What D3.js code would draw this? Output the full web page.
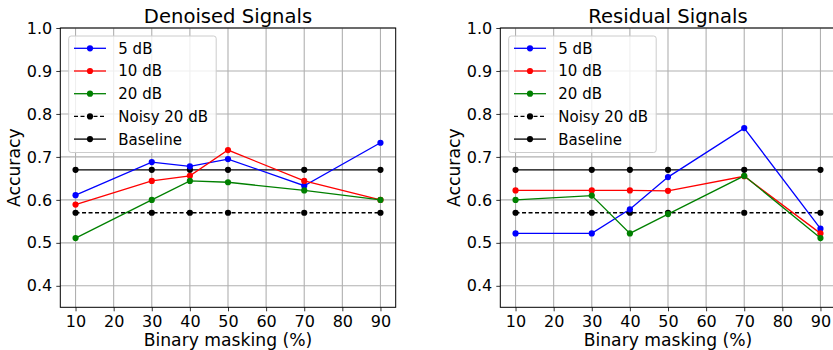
<!DOCTYPE html>
<html>
<head>
<meta charset="utf-8">
<script src="https://cdn.jsdelivr.net/npm/d3@7"></script>
<style>
  body { margin: 0; background: #fff; }
  svg { font-family: "DejaVu Sans", sans-serif; }
</style>
</head>
<body>
<div id="chart"></div>
<script>
// masking levels on the x axis
var masking = [10, 30, 40, 50, 70, 90];
var xTicks = [10, 20, 30, 40, 50, 60, 70, 80, 90];
var yTicks = [0.4, 0.5, 0.6, 0.7, 0.8, 0.9, 1.0];

// denoised signals
var denoised5  = [0.611, 0.688, 0.678, 0.695, 0.633, 0.733];
var denoised10 = [0.589, 0.644, 0.656, 0.716, 0.644, 0.600];
var denoised20 = [0.511, 0.600, 0.644, 0.641, 0.622, 0.600];

// residual signals
var residual5  = [0.522, 0.522, 0.578, 0.653, 0.767, 0.533];
var residual10 = [0.622, 0.622, 0.622, 0.621, 0.655, 0.522];
var residual20 = [0.600, 0.610, 0.522, 0.567, 0.656, 0.511];

// reference lines
var noisy20  = [0.57, 0.57, 0.57, 0.57, 0.57, 0.57];
var baseline = [0.67, 0.67, 0.67, 0.67, 0.67, 0.67];

var seriesNames = ["5 dB", "10 dB", "20 dB", "Noisy 20 dB", "Baseline"];
var seriesColors = ["#0000ff", "#ff0000", "#008000", "#000000", "#000000"];
var seriesDash = [null, null, null, "4,2.5", null];

var width = 833, height = 350;
var svg = d3.select("#chart").append("svg")
    .attr("width", width)
    .attr("height", height);

function drawPanel(left, title, values) {
    var top = 28, bottom = 307.3, right = left + 335.4;
    var x = d3.scaleLinear().domain([6, 94]).range([left, right]);
    var y = d3.scaleLinear().domain([0.35, 1.0]).range([bottom, top]);
    var g = svg.append("g");

    // grid
    g.selectAll(".gx").data(xTicks).enter().append("line")
        .attr("x1", function(d) { return x(d); })
        .attr("x2", function(d) { return x(d); })
        .attr("y1", top).attr("y2", bottom)
        .attr("stroke", "#b0b0b0").attr("stroke-width", 1.1);
    g.selectAll(".gy").data(yTicks).enter().append("line")
        .attr("y1", function(d) { return y(d); })
        .attr("y2", function(d) { return y(d); })
        .attr("x1", left).attr("x2", right)
        .attr("stroke", "#b0b0b0").attr("stroke-width", 1.1);

    // axes
    var xAxis = g.append("g")
        .attr("transform", "translate(0," + bottom + ")")
        .call(d3.axisBottom(x).tickValues(xTicks).tickSize(4).tickPadding(4).tickFormat(d3.format("d")));
    var yAxis = g.append("g")
        .attr("transform", "translate(" + left + ",0)")
        .call(d3.axisLeft(y).tickValues(yTicks).tickSize(4).tickPadding(4).tickFormat(d3.format(".1f")));
    [xAxis, yAxis].forEach(function(a) {
        a.select(".domain").remove();
        a.selectAll("text").attr("font-size", 16).attr("fill", "#000")
            .attr("font-family", "DejaVu Sans, sans-serif");
        a.selectAll("line").attr("stroke", "#000").attr("stroke-width", 0.8);
    });

    g.append("rect")
        .attr("x", left).attr("y", top)
        .attr("width", right - left).attr("height", bottom - top)
        .attr("fill", "none").attr("stroke", "#000").attr("stroke-width", 1);

    // series
    var line = d3.line()
        .x(function(d, i) { return x(masking[i]); })
        .y(function(d) { return y(d); });
    var order = [3, 4, 0, 1, 2];
    order.forEach(function(k) {
        g.append("path")
            .datum(values[k])
            .attr("d", line)
            .attr("fill", "none")
            .attr("stroke", seriesColors[k])
            .attr("stroke-width", 1.3)
            .attr("stroke-dasharray", seriesDash[k]);
        g.selectAll(".m" + k).data(values[k]).enter().append("circle")
            .attr("cx", function(d, i) { return x(masking[i]); })
            .attr("cy", function(d) { return y(d); })
            .attr("r", 3.1)
            .attr("fill", seriesColors[k]);
    });

    // titles
    g.append("text")
        .attr("x", (left + right) / 2).attr("y", 23)
        .attr("text-anchor", "middle").attr("font-size", 19.6)
        .text(title);
    g.append("text")
        .attr("x", (left + right) / 2).attr("y", 346)
        .attr("text-anchor", "middle").attr("font-size", 17.2)
        .text("Binary masking (%)");
    g.append("text")
        .attr("transform", "translate(" + (left - 40.5) + "," + ((top + bottom) / 2) + ") rotate(-90)")
        .attr("text-anchor", "middle").attr("font-size", 17.2)
        .text("Accuracy");

    // legend
    var lx = left + 8.4, ly = top + 8;
    var legend = g.append("g");
    legend.append("rect")
        .attr("x", lx).attr("y", ly)
        .attr("width", 147.5).attr("height", 116.5)
        .attr("rx", 2.5)
        .attr("fill", "#fff").attr("fill-opacity", 0.8)
        .attr("stroke", "#cccccc").attr("stroke-width", 1);
    seriesNames.forEach(function(name, k) {
        var cy = ly + 12.3 + k * 22.7;
        legend.append("line")
            .attr("x1", lx + 5.3).attr("x2", lx + 37.3)
            .attr("y1", cy).attr("y2", cy)
            .attr("stroke", seriesColors[k]).attr("stroke-width", 1.3)
            .attr("stroke-dasharray", seriesDash[k]);
        legend.append("circle")
            .attr("cx", lx + 21.3).attr("cy", cy).attr("r", 3.1)
            .attr("fill", seriesColors[k]);
        legend.append("text")
            .attr("x", lx + 49.6).attr("y", cy + 5.4)
            .attr("font-size", 15)
            .text(name);
    });
}

drawPanel(60.3, "Denoised Signals", [denoised5, denoised10, denoised20, noisy20, baseline]);
drawPanel(500.3, "Residual Signals", [residual5, residual10, residual20, noisy20, baseline]);
</script>
</body>
</html>
